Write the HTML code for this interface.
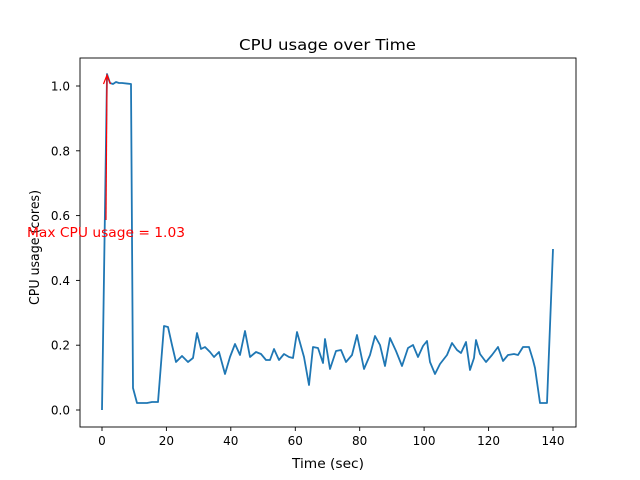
<!DOCTYPE html>
<html><head><style>body{margin:0;background:#fff}svg{display:block}text{font-family:"DejaVu Sans","Liberation Sans",sans-serif}</style></head><body>
<svg width="640" height="480" viewBox="0 0 640 480">
<rect x="80" y="58" width="496" height="369" fill="none" stroke="#000" stroke-width="0.9"/>
<g stroke="#000" stroke-width="0.9">
<line x1="102" y1="427" x2="102" y2="431"/><line x1="166.4" y1="427" x2="166.4" y2="431"/><line x1="230.8" y1="427" x2="230.8" y2="431"/><line x1="295.3" y1="427" x2="295.3" y2="431"/><line x1="359.7" y1="427" x2="359.7" y2="431"/><line x1="424.1" y1="427" x2="424.1" y2="431"/><line x1="488.6" y1="427" x2="488.6" y2="431"/><line x1="553" y1="427" x2="553" y2="431"/>
<line x1="76" y1="410" x2="80" y2="410"/><line x1="76" y1="345.2" x2="80" y2="345.2"/><line x1="76" y1="280.4" x2="80" y2="280.4"/><line x1="76" y1="215.6" x2="80" y2="215.6"/><line x1="76" y1="150.8" x2="80" y2="150.8"/><line x1="76" y1="86" x2="80" y2="86"/>
</g>
<g font-size="12" text-anchor="middle" fill="#000">
<text x="102" y="445">0</text><text x="166.4" y="445">20</text><text x="230.8" y="445">40</text><text x="295.3" y="445">60</text><text x="359.7" y="445">80</text><text x="424.1" y="445">100</text><text x="488.6" y="445">120</text><text x="553" y="445">140</text>
</g>
<g font-size="12" text-anchor="end" fill="#000">
<text x="70" y="414.5">0.0</text><text x="70" y="349.7">0.2</text><text x="70" y="284.9">0.4</text><text x="70" y="220.1">0.6</text><text x="70" y="155.3">0.8</text><text x="70" y="90.5">1.0</text>
</g>
<text x="292" y="468" font-size="13" textLength="72" lengthAdjust="spacingAndGlyphs">Time (sec)</text>
<text transform="translate(39,305) rotate(-90)" font-size="13" textLength="115" lengthAdjust="spacingAndGlyphs">CPU usage (cores)</text>
<text x="239" y="50" font-size="15.5" textLength="177" lengthAdjust="spacingAndGlyphs">CPU usage over Time</text>
<polyline fill="none" stroke="#1f77b4" stroke-width="1.8" stroke-linejoin="round" points="102,410 107,74 110,83 113,84 116,82 119,83 122,83 131,84 133,388 137,403 142,403 147,403 152,402 158,402 164,326 168,327 172,345 176,362 182,356 188,362 193,358 197,333 201,349 205,347 210,352 214,357 219,352 225,374 230,357 235,344 240,355 245,331 250,357 256,352 261,354 266,360 270,360 274,349 279,360 284,354 289,357 293,358 297,332 304,357 309,385 313,347 318,348 323,363 325,339 330,369 336,351 341,350 346,362 352,355 357,335 364,369 370,355 375,336 380,345 385,366 390,338 396,351 402,366 408,348 413,345 418,357 423,346 427,341 430,362 435,374 440,364 447,355 452,343 457,350 461,353 466,342 470,370 474,358 476,340 480,354 486,362 492,355 498,347 503,361 508,355 514,354 518,355 523,347 527,347 529,347 533,360 535,368 540,403 547,403 553,249"/>
<line x1="106" y1="220" x2="107" y2="77" stroke="red" stroke-width="1.2"/>
<polyline points="103.5,84 107,75 110.5,84" fill="none" stroke="red" stroke-width="1.2"/>
<text x="27" y="237" font-size="13" fill="red" textLength="158" lengthAdjust="spacingAndGlyphs">Max CPU usage = 1.03</text>
</svg>
</body></html>
